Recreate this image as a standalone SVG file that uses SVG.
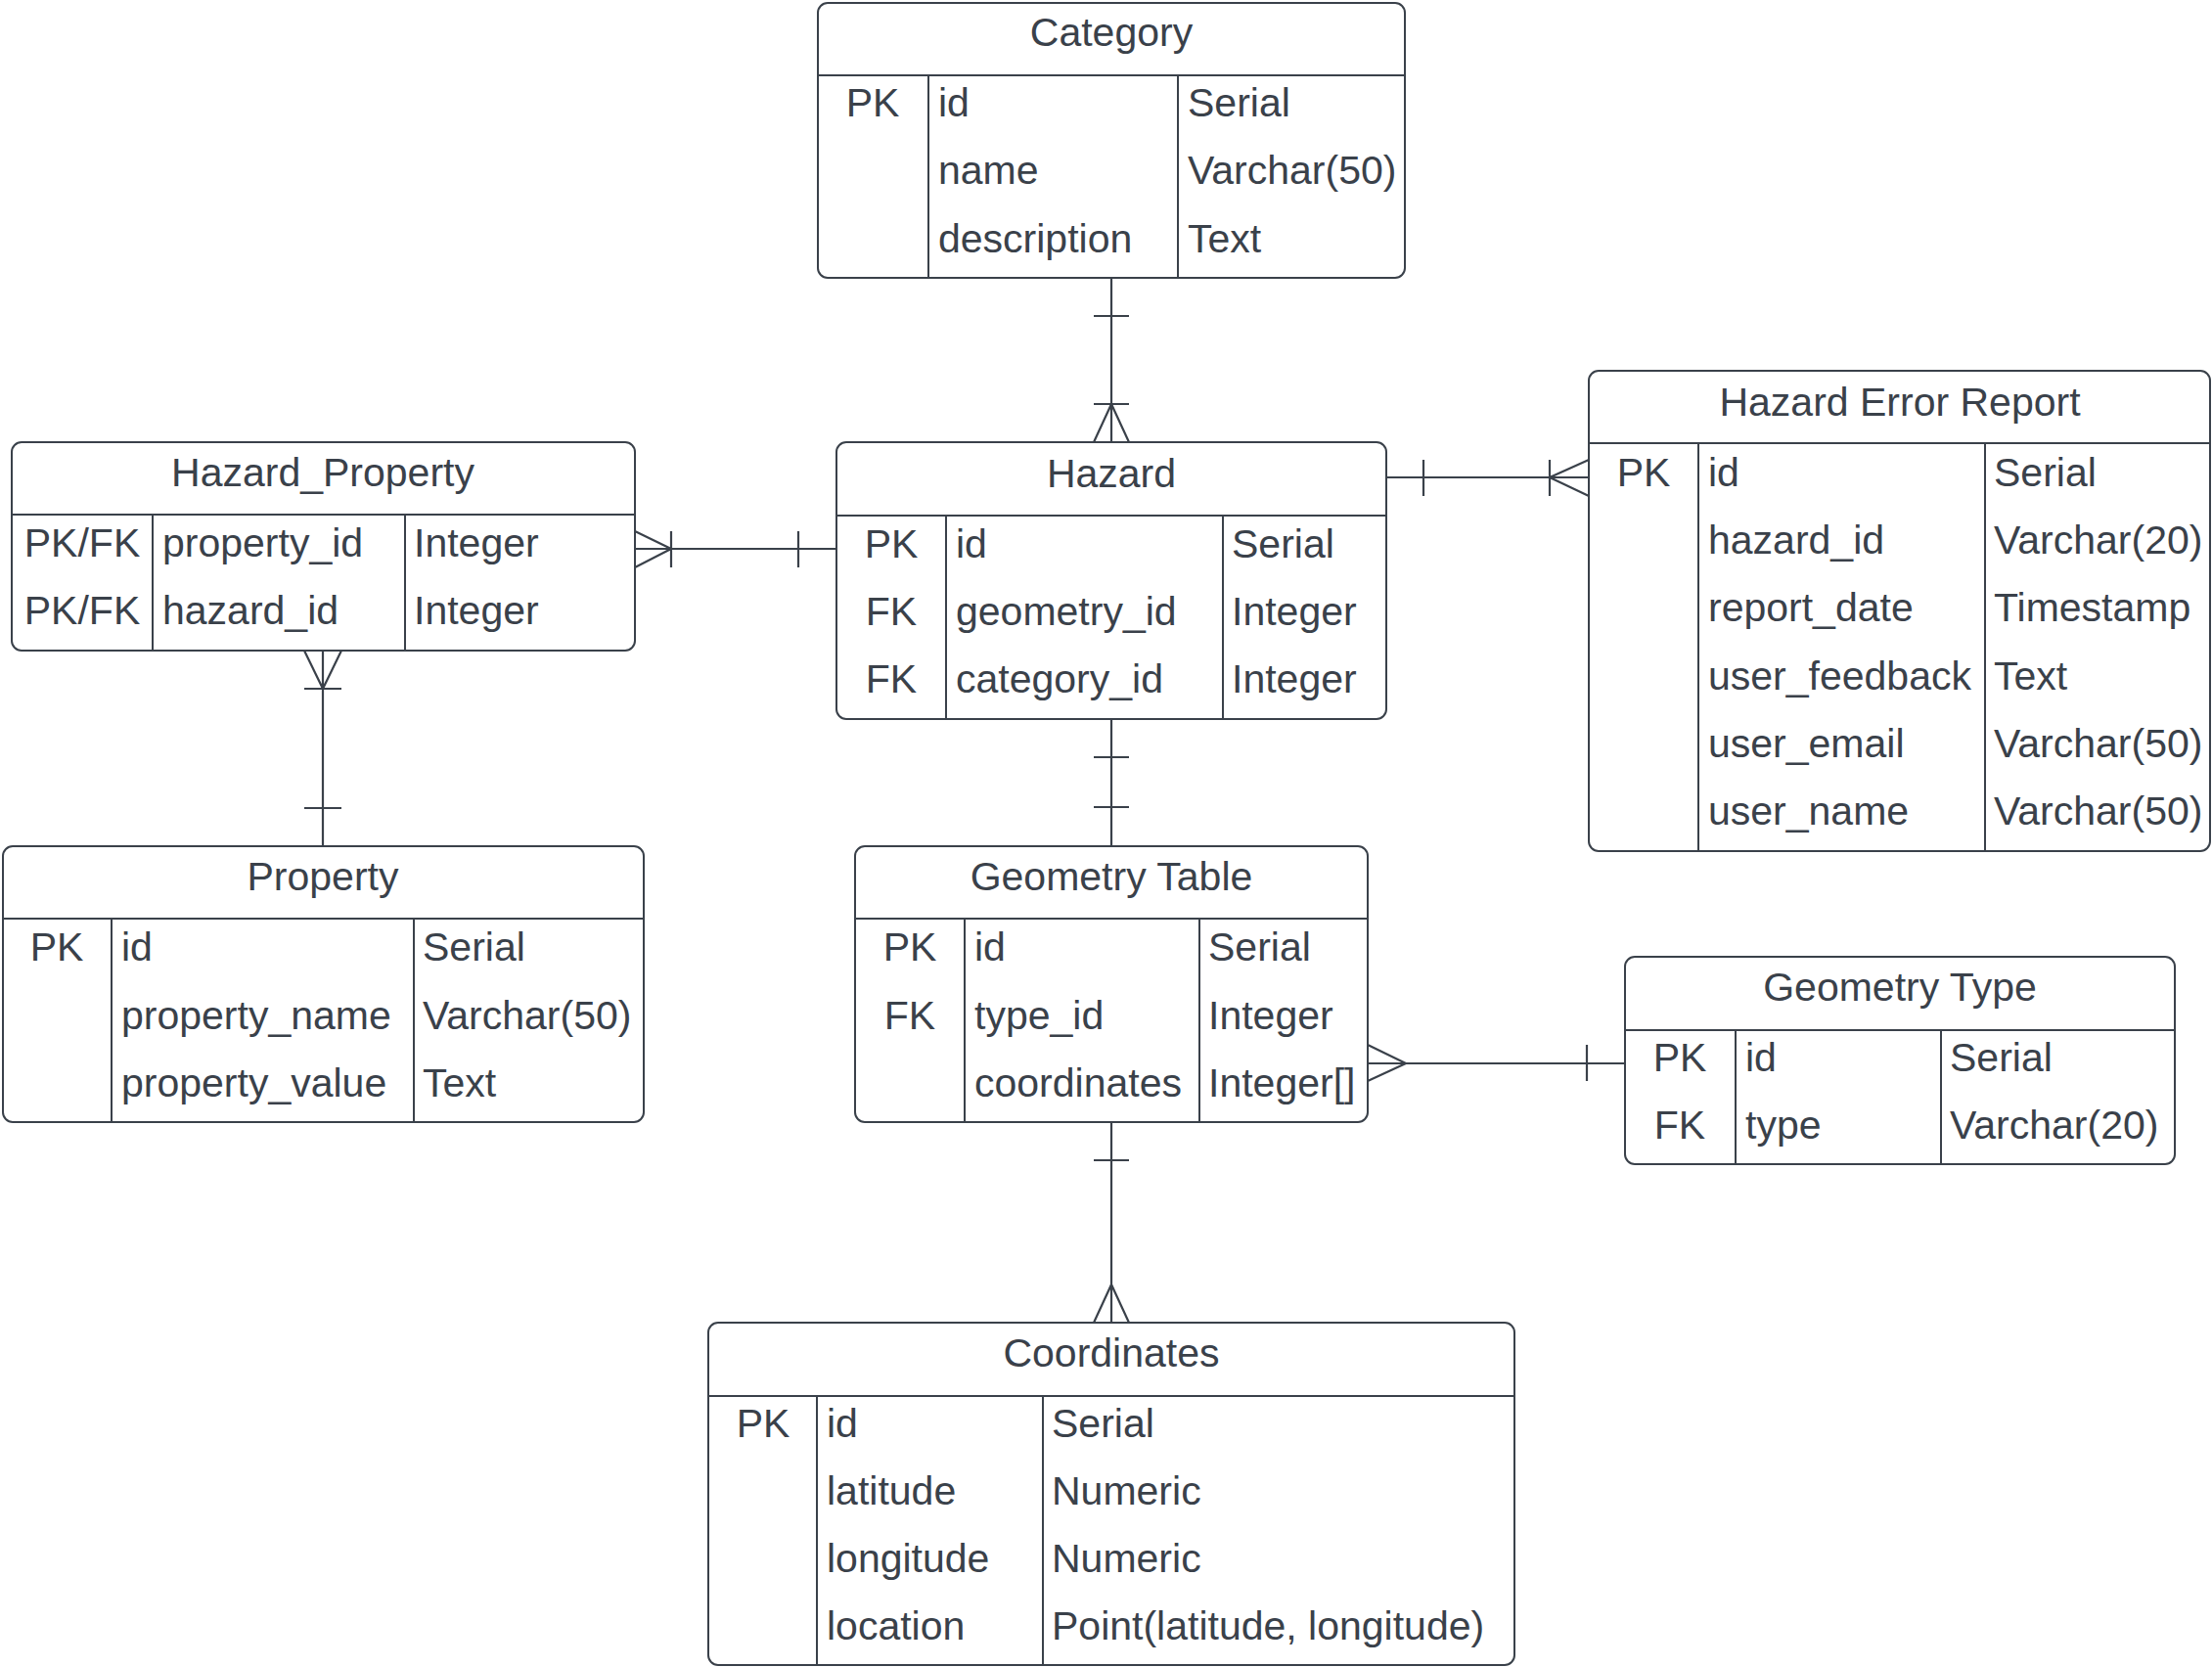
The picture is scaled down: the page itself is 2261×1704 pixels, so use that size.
<svg xmlns="http://www.w3.org/2000/svg" width="2261" height="1704" viewBox="0 0 2261 1704">
<style>
.box{fill:#ffffff;stroke:#3a414a;stroke-width:2}
.ln{stroke:#3a414a;stroke-width:2;fill:none}
.cn{stroke:#3a414a;stroke-width:2.2;fill:none}
text{font-family:"Liberation Sans",Arial,sans-serif;font-size:41px;fill:#3a414a}
.t{text-anchor:middle}
.k{text-anchor:middle}
</style>
<rect x="0" y="0" width="2261" height="1704" fill="#ffffff"/>
<g id="connectors">
  <!-- Category - Hazard -->
  <path class="cn" d="M1136 284 V452 M1118 323 H1154 M1118 413 H1154 M1136 413 L1118 452 M1136 413 L1154 452"/>
  <!-- Hazard - Geometry Table -->
  <path class="cn" d="M1136 735 V865 M1118 774 H1154 M1118 825 H1154"/>
  <!-- Geometry Table - Coordinates -->
  <path class="cn" d="M1136 1147 V1352 M1118 1186 H1154 M1136 1313 L1118 1352 M1136 1313 L1154 1352"/>
  <!-- Hazard - Hazard Error Report -->
  <path class="cn" d="M1417 488 H1624 M1455 470 V507 M1584 470 V507 M1584 488 L1624 470 M1584 488 L1624 507"/>
  <!-- Hazard_Property - Hazard -->
  <path class="cn" d="M649 561 H855 M686 543 V580 M686 561 L649 543 M686 561 L649 580 M816 543 V580"/>
  <!-- Hazard_Property - Property -->
  <path class="cn" d="M330 665 V865 M311 704 H349 M330 704 L311 665 M330 704 L349 665 M311 826 H349"/>
  <!-- Geometry Table - Geometry Type -->
  <path class="cn" d="M1398 1087 H1661 M1437 1087 L1398 1068 M1437 1087 L1398 1105 M1622 1068 V1105"/>
</g>
<g id="category">
  <rect class="box" x="836" y="3" width="600" height="281" rx="10"/>
  <path class="ln" d="M836 77 H1436 M949 77 V284 M1204 77 V284"/>
  <text class="t" x="1136" y="47">Category</text>
  <text class="k" x="892" y="119">PK</text>
  <text x="959" y="119">id</text>
  <text x="959" y="188">name</text>
  <text x="959" y="258">description</text>
  <text x="1214" y="119">Serial</text>
  <text x="1214" y="188">Varchar(50)</text>
  <text x="1214" y="258">Text</text>
</g>
<g id="hazard">
  <rect class="box" x="855" y="452" width="562" height="283" rx="10"/>
  <path class="ln" d="M855 527 H1417 M967 527 V735 M1250 527 V735"/>
  <text class="t" x="1136" y="498">Hazard</text>
  <text class="k" x="911" y="570">PK</text>
  <text class="k" x="911" y="639">FK</text>
  <text class="k" x="911" y="708">FK</text>
  <text x="977" y="570">id</text>
  <text x="977" y="639">geometry_id</text>
  <text x="977" y="708">category_id</text>
  <text x="1259" y="570">Serial</text>
  <text x="1259" y="639">Integer</text>
  <text x="1259" y="708">Integer</text>
</g>
<g id="hazard_error_report">
  <rect class="box" x="1624" y="379" width="635" height="491" rx="10"/>
  <path class="ln" d="M1624 453 H2259 M1736 453 V870 M2029 453 V870"/>
  <text class="t" x="1942" y="425">Hazard Error Report</text>
  <text class="k" x="1680" y="497">PK</text>
  <text x="1746" y="497">id</text>
  <text x="1746" y="566">hazard_id</text>
  <text x="1746" y="635">report_date</text>
  <text x="1746" y="705">user_feedback</text>
  <text x="1746" y="774">user_email</text>
  <text x="1746" y="843">user_name</text>
  <text x="2038" y="497">Serial</text>
  <text x="2038" y="566">Varchar(20)</text>
  <text x="2038" y="635">Timestamp</text>
  <text x="2038" y="705">Text</text>
  <text x="2038" y="774">Varchar(50)</text>
  <text x="2038" y="843">Varchar(50)</text>
</g>
<g id="hazard_property">
  <rect class="box" x="12" y="452" width="637" height="213" rx="10"/>
  <path class="ln" d="M12 526 H649 M156 526 V665 M414 526 V665"/>
  <text class="t" x="330" y="497">Hazard_Property</text>
  <text class="k" x="84" y="569">PK/FK</text>
  <text class="k" x="84" y="638">PK/FK</text>
  <text x="166" y="569">property_id</text>
  <text x="166" y="638">hazard_id</text>
  <text x="423" y="569">Integer</text>
  <text x="423" y="638">Integer</text>
</g>
<g id="property">
  <rect class="box" x="3" y="865" width="655" height="282" rx="10"/>
  <path class="ln" d="M3 939 H658 M114 939 V1147 M423 939 V1147"/>
  <text class="t" x="330" y="910">Property</text>
  <text class="k" x="58" y="982">PK</text>
  <text x="124" y="982">id</text>
  <text x="124" y="1052">property_name</text>
  <text x="124" y="1121">property_value</text>
  <text x="432" y="982">Serial</text>
  <text x="432" y="1052">Varchar(50)</text>
  <text x="432" y="1121">Text</text>
</g>
<g id="geometry_table">
  <rect class="box" x="874" y="865" width="524" height="282" rx="10"/>
  <path class="ln" d="M874 939 H1398 M986 939 V1147 M1226 939 V1147"/>
  <text class="t" x="1136" y="910">Geometry Table</text>
  <text class="k" x="930" y="982">PK</text>
  <text class="k" x="930" y="1052">FK</text>
  <text x="996" y="982">id</text>
  <text x="996" y="1052">type_id</text>
  <text x="996" y="1121">coordinates</text>
  <text x="1235" y="982">Serial</text>
  <text x="1235" y="1052">Integer</text>
  <text x="1235" y="1121">Integer[]</text>
</g>
<g id="geometry_type">
  <rect class="box" x="1661" y="978" width="562" height="212" rx="10"/>
  <path class="ln" d="M1661 1053 H2223 M1774 1053 V1190 M1984 1053 V1190"/>
  <text class="t" x="1942" y="1023">Geometry Type</text>
  <text class="k" x="1717" y="1095">PK</text>
  <text class="k" x="1717" y="1164">FK</text>
  <text x="1784" y="1095">id</text>
  <text x="1784" y="1164">type</text>
  <text x="1993" y="1095">Serial</text>
  <text x="1993" y="1164">Varchar(20)</text>
</g>
<g id="coordinates">
  <rect class="box" x="724" y="1352" width="824" height="350" rx="10"/>
  <path class="ln" d="M724 1427 H1548 M835 1427 V1702 M1066 1427 V1702"/>
  <text class="t" x="1136" y="1397">Coordinates</text>
  <text class="k" x="780" y="1469">PK</text>
  <text x="845" y="1469">id</text>
  <text x="845" y="1538">latitude</text>
  <text x="845" y="1607">longitude</text>
  <text x="845" y="1676">location</text>
  <text x="1075" y="1469">Serial</text>
  <text x="1075" y="1538">Numeric</text>
  <text x="1075" y="1607">Numeric</text>
  <text x="1075" y="1676">Point(latitude, longitude)</text>
</g>
</svg>
